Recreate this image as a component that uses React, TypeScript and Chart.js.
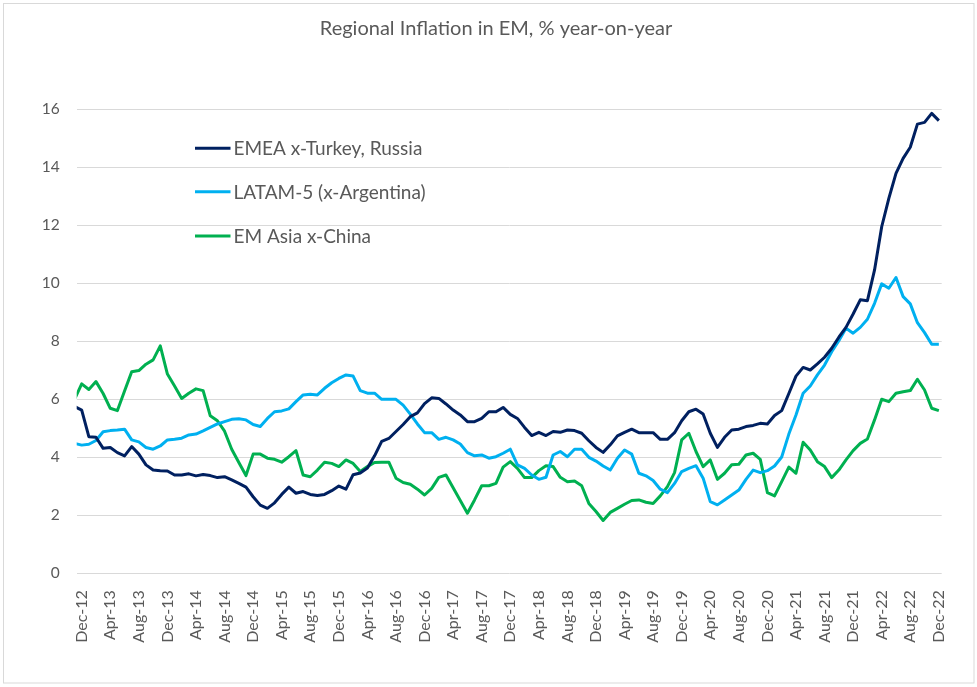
import React, { useEffect, useRef } from "react";
import { Chart, registerables } from "chart.js";

Chart.register(...registerables);

const months: string[] = [
  "Nov-12", "Dec-12",
  "Jan-13", "Feb-13", "Mar-13", "Apr-13", "May-13", "Jun-13", "Jul-13", "Aug-13", "Sep-13", "Oct-13", "Nov-13", "Dec-13",
  "Jan-14", "Feb-14", "Mar-14", "Apr-14", "May-14", "Jun-14", "Jul-14", "Aug-14", "Sep-14", "Oct-14", "Nov-14", "Dec-14",
  "Jan-15", "Feb-15", "Mar-15", "Apr-15", "May-15", "Jun-15", "Jul-15", "Aug-15", "Sep-15", "Oct-15", "Nov-15", "Dec-15",
  "Jan-16", "Feb-16", "Mar-16", "Apr-16", "May-16", "Jun-16", "Jul-16", "Aug-16", "Sep-16", "Oct-16", "Nov-16", "Dec-16",
  "Jan-17", "Feb-17", "Mar-17", "Apr-17", "May-17", "Jun-17", "Jul-17", "Aug-17", "Sep-17", "Oct-17", "Nov-17", "Dec-17",
  "Jan-18", "Feb-18", "Mar-18", "Apr-18", "May-18", "Jun-18", "Jul-18", "Aug-18", "Sep-18", "Oct-18", "Nov-18", "Dec-18",
  "Jan-19", "Feb-19", "Mar-19", "Apr-19", "May-19", "Jun-19", "Jul-19", "Aug-19", "Sep-19", "Oct-19", "Nov-19", "Dec-19",
  "Jan-20", "Feb-20", "Mar-20", "Apr-20", "May-20", "Jun-20", "Jul-20", "Aug-20", "Sep-20", "Oct-20", "Nov-20", "Dec-20",
  "Jan-21", "Feb-21", "Mar-21", "Apr-21", "May-21", "Jun-21", "Jul-21", "Aug-21", "Sep-21", "Oct-21", "Nov-21", "Dec-21",
  "Jan-22", "Feb-22", "Mar-22", "Apr-22", "May-22", "Jun-22", "Jul-22", "Aug-22", "Sep-22", "Oct-22", "Nov-22", "Dec-22",
];

const tickLabels: string[] = [
  "Dec-12", "Apr-13", "Aug-13", "Dec-13", "Apr-14", "Aug-14", "Dec-14", "Apr-15", "Aug-15", "Dec-15",
  "Apr-16", "Aug-16", "Dec-16", "Apr-17", "Aug-17", "Dec-17", "Apr-18", "Aug-18", "Dec-18", "Apr-19",
  "Aug-19", "Dec-19", "Apr-20", "Aug-20", "Dec-20", "Apr-21", "Aug-21", "Dec-21", "Apr-22", "Aug-22", "Dec-22",
];

const yTicks: number[] = [0, 2, 4, 6, 8, 10, 12, 14, 16];

const emea: number[] = [
  5.75,
  5.63, 4.71, 4.69, 4.31, 4.34, 4.16, 4.05, 4.37, 4.11, 3.74,
  3.56, 3.54, 3.53, 3.39, 3.39, 3.43, 3.36, 3.41, 3.37, 3.30,
  3.33, 3.22, 3.10, 2.97, 2.64, 2.35, 2.24, 2.43, 2.72, 2.97,
  2.76, 2.82, 2.72, 2.68, 2.72, 2.85, 3.01, 2.90, 3.40, 3.46,
  3.63, 4.05, 4.55, 4.65, 4.89, 5.13, 5.40, 5.53, 5.85, 6.05,
  6.03, 5.84, 5.63, 5.46, 5.23, 5.23, 5.34, 5.57, 5.57, 5.72,
  5.48, 5.34, 5.03, 4.75, 4.86, 4.75, 4.89, 4.86, 4.94, 4.92,
  4.83, 4.57, 4.34, 4.17, 4.43, 4.74, 4.86, 4.97, 4.85, 4.85,
  4.85, 4.62, 4.62, 4.85, 5.26, 5.57, 5.66, 5.49, 4.83, 4.34,
  4.69, 4.94, 4.97, 5.06, 5.10, 5.17, 5.15, 5.44, 5.61, 6.20,
  6.80, 7.10, 7.01, 7.22, 7.45, 7.76, 8.14, 8.48, 8.94, 9.43,
  9.40, 10.46, 11.95, 12.93, 13.79, 14.31, 14.69, 15.49, 15.55, 15.86, 15.61,
];

const latam: number[] = [
  4.48,
  4.42, 4.45, 4.58, 4.88, 4.92, 4.94, 4.97, 4.60, 4.53, 4.34,
  4.28, 4.39, 4.60, 4.62, 4.66, 4.77, 4.80, 4.91, 5.03, 5.15,
  5.23, 5.31, 5.33, 5.29, 5.13, 5.06, 5.34, 5.57, 5.60, 5.67,
  5.92, 6.15, 6.17, 6.15, 6.38, 6.57, 6.72, 6.84, 6.80, 6.30,
  6.21, 6.21, 6.00, 6.00, 6.00, 5.80, 5.49, 5.15, 4.85, 4.85,
  4.62, 4.69, 4.60, 4.46, 4.16, 4.05, 4.08, 3.97, 4.02, 4.14,
  4.28, 3.74, 3.62, 3.39, 3.24, 3.31, 4.08, 4.20, 4.02, 4.28,
  4.28, 4.00, 3.87, 3.70, 3.56, 3.97, 4.25, 4.11, 3.45, 3.36,
  3.20, 2.90, 2.78, 3.10, 3.51, 3.62, 3.71, 3.28, 2.47, 2.36,
  2.53, 2.70, 2.87, 3.24, 3.56, 3.47, 3.54, 3.70, 4.01, 4.80,
  5.46, 6.21, 6.46, 6.84, 7.18, 7.64, 8.02, 8.45, 8.28, 8.48,
  8.76, 9.31, 9.98, 9.83, 10.20, 9.54, 9.29, 8.64, 8.30, 7.90, 7.90,
];

const emAsia: number[] = [
  6.00,
  6.53, 6.34, 6.61, 6.20, 5.69, 5.61, 6.29, 6.95, 6.99, 7.21,
  7.36, 7.84, 6.87, 6.46, 6.03, 6.21, 6.36, 6.30, 5.43, 5.26,
  4.90, 4.28, 3.82, 3.37, 4.11, 4.11, 3.97, 3.93, 3.83, 4.02,
  4.23, 3.39, 3.33, 3.56, 3.83, 3.79, 3.68, 3.91, 3.79, 3.51,
  3.68, 3.82, 3.83, 3.83, 3.28, 3.13, 3.07, 2.90, 2.70, 2.93,
  3.31, 3.39, 2.95, 2.51, 2.07, 2.53, 3.02, 3.02, 3.10, 3.66,
  3.85, 3.62, 3.30, 3.30, 3.54, 3.71, 3.68, 3.31, 3.16, 3.18,
  3.02, 2.41, 2.13, 1.82, 2.10, 2.24, 2.38, 2.51, 2.53, 2.45,
  2.41, 2.67, 2.99, 3.47, 4.60, 4.83, 4.20, 3.68, 3.91, 3.24,
  3.45, 3.74, 3.76, 4.08, 4.14, 3.93, 2.78, 2.67, 3.16, 3.66,
  3.45, 4.52, 4.25, 3.85, 3.68, 3.30, 3.56, 3.91, 4.23, 4.48,
  4.63, 5.29, 6.00, 5.92, 6.21, 6.26, 6.30, 6.69, 6.32, 5.69, 5.61,
];

const seriesNames: string[] = ["EMEA x-Turkey, Russia", "LATAM-5 (x-Argentina)", "EM Asia x-China"];
const seriesColors: string[] = ["#002060", "#00B0F0", "#00B050"];
const titleText = "Regional Inflation in EM, % year-on-year";

const FONT = "Lato, 'Open Sans', sans-serif";
const TEXT = "#595959";

// index 0 of the arrays is Nov-12, Dec-12 sits at x = 0
const toPoints = (arr: number[]) => arr.map((v, i) => ({ x: i - 1, y: v }));

const decorPlugin = {
  id: "decor",
  beforeDraw(chart: any) {
    const ctx = chart.ctx as CanvasRenderingContext2D;
    ctx.save();
    ctx.fillStyle = "#ffffff";
    ctx.fillRect(0, 0, chart.width, chart.height);
    ctx.strokeStyle = "#d9d9d9";
    ctx.lineWidth = 1;
    ctx.strokeRect(3.5, 3.5, 970.5, 679.5);
    ctx.restore();
  },
  afterDraw(chart: any) {
    const ctx = chart.ctx as CanvasRenderingContext2D;
    ctx.save();
    // title
    ctx.fillStyle = TEXT;
    ctx.font = `20px ${FONT}`;
    ctx.textAlign = "center";
    ctx.textBaseline = "alphabetic";
    ctx.fillText(titleText, 496, 35);
    // legend
    const lineY = [148.3, 191.7, 236];
    chart.data.datasets.forEach((ds: any, i: number) => {
      ctx.strokeStyle = ds.borderColor;
      ctx.lineWidth = 3;
      ctx.beginPath();
      ctx.moveTo(195, lineY[i]);
      ctx.lineTo(230.5, lineY[i]);
      ctx.stroke();
      ctx.fillStyle = TEXT;
      ctx.font = `19px ${FONT}`;
      ctx.textAlign = "left";
      ctx.textBaseline = "alphabetic";
      ctx.fillText(ds.label, 233.5, lineY[i] + 6.8);
    });
    ctx.restore();
  },
};

export default function App() {
  const ref = useRef<HTMLCanvasElement | null>(null);

  useEffect(() => {
    document.body.style.margin = "0";
    const canvas = ref.current;
    if (!canvas) return;
    const datasets = [emea, latam, emAsia].map((arr, i) => ({
      label: seriesNames[i],
      data: toPoints(arr),
      borderColor: seriesColors[i],
      backgroundColor: seriesColors[i],
      borderWidth: 3,
      pointRadius: 0,
      tension: 0,
      fill: false,
      clip: 0,
      borderJoinStyle: "round" as const,
    }));
    const chart = new Chart(canvas, {
      type: "line",
      data: { datasets },
      options: {
        animation: false,
        responsive: false,
        maintainAspectRatio: false,
        devicePixelRatio: 1,
        layout: { padding: { left: 0, right: 35.3, top: 109.3, bottom: 0 } },
        plugins: {
          legend: { display: false },
          title: { display: false },
          tooltip: { enabled: false },
        },
        scales: {
          x: {
            type: "linear",
            min: -0.7,
            max: 120.4,
            grid: { display: false },
            border: { display: false },
            afterBuildTicks: (scale: any) => {
              scale.ticks = tickLabels.map((lab) => ({ value: months.indexOf(lab) - 1 }));
            },
            afterFit: (scale: any) => {
              scale.height = 113.7;
            },
            ticks: {
              autoSkip: false,
              maxRotation: 90,
              minRotation: 90,
              padding: 9,
              color: TEXT,
              font: { family: FONT, size: 16 },
              callback: (v: any) => months[Math.round(Number(v)) + 1],
            },
          },
          y: {
            min: 0,
            max: 16,
            afterBuildTicks: (scale: any) => {
              scale.ticks = yTicks.map((v) => ({ value: v }));
            },
            afterFit: (scale: any) => {
              scale.width = 76.7;
            },
            grid: { color: "#d9d9d9", drawTicks: false, lineWidth: 1 },
            border: { display: false },
            ticks: {
              padding: 17,
              color: TEXT,
              font: { family: FONT, size: 15.5 },
            },
          },
        },
      },
      plugins: [decorPlugin],
    });
    return () => chart.destroy();
  }, []);

  return (
    <div style={{ position: "absolute", left: 0, top: 0, width: 977, height: 687 }}>
      <canvas ref={ref} width={977} height={687} style={{ width: 977, height: 687, display: "block" }} />
    </div>
  );
}
